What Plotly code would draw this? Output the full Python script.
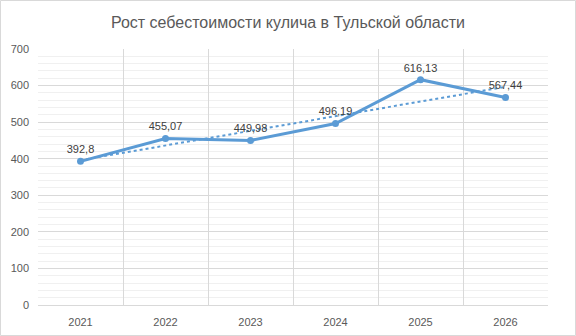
import plotly.graph_objects as go
import numpy as np

years = ["2021", "2022", "2023", "2024", "2025", "2026"]
values = [392.8, 455.07, 449.98, 496.19, 616.13, 567.44]
labels = ["392,8", "455,07", "449,98", "496,19", "616,13", "567,44"]
title = "Рост себестоимости кулича в Тульской области"

xi = np.arange(len(values))
k, b = np.polyfit(xi, values, 1)
trend = (k * xi + b).tolist()

L, R, T, B = 38, 28, 49, 31
W, H = 576, 336
pw, ph = W - L - R, H - T - B

fig = go.Figure()
fig.add_trace(go.Scatter(x=years, y=trend, mode="lines",
                         line=dict(color="#5B9BD5", width=2, dash="dot"),
                         hoverinfo="skip", showlegend=False))
fig.add_trace(go.Scatter(x=years, y=values, mode="lines+markers+text",
                         text=labels, textposition="top center",
                         textfont=dict(size=11, color="#404040"),
                         line=dict(color="#5B9BD5", width=3),
                         marker=dict(size=7, color="#5B9BD5"),
                         showlegend=False))

fig.update_layout(
    width=W, height=H,
    margin=dict(l=L, r=R, t=T, b=B, autoexpand=False),
    paper_bgcolor="white", plot_bgcolor="white",
    font=dict(family="Liberation Sans, Arial, sans-serif", color="#595959"),
    title=dict(text=title, x=0.5, xanchor="center", y=1 - 22 / H, yanchor="middle",
               font=dict(size=16, color="#595959")),
    xaxis=dict(type="category", tickson="boundaries", showgrid=True,
               range=[-0.5, 5.5], autorange=False,
               gridcolor="#d9d9d9", gridwidth=1, showline=True, linecolor="#d9d9d9",
               ticks="", tickfont=dict(size=11, color="#595959"),
               ticklabelstandoff=7, fixedrange=True),
    yaxis=dict(range=[0, 700], dtick=100, showgrid=True, gridcolor="#d9d9d9",
               zeroline=False, ticks="", tickfont=dict(size=11, color="#595959"),
               ticklabelstandoff=8,
               minor=dict(dtick=20, showgrid=True, gridcolor="#f0f0f0", gridwidth=1),
               fixedrange=True),
)
fig.add_shape(type="rect", xref="paper", yref="paper",
              x0=(0.5 - L) / pw, x1=(W - 0.5 - L) / pw,
              y0=(0.5 - B) / ph, y1=(H - 0.5 - B) / ph,
              line=dict(color="#d9d9d9", width=1), layer="below")
fig.write_html("out.html")
